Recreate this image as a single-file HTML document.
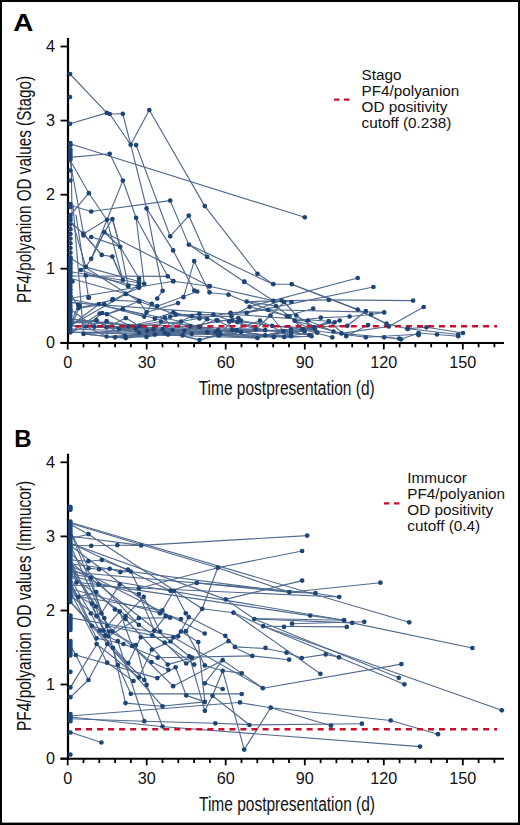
<!DOCTYPE html>
<html><head><meta charset="utf-8"><style>
html,body{margin:0;padding:0;background:#fff;}
body{width:520px;height:825px;overflow:hidden;}
svg{display:block;}
.tk{font-family:"Liberation Sans",sans-serif;font-size:16.2px;fill:#111;}
.lg{font-family:"Liberation Sans",sans-serif;font-size:15.3px;fill:#111;}
.ax{font-family:"Liberation Sans",sans-serif;font-size:19.5px;fill:#111;}
.pl{font-family:"Liberation Sans",sans-serif;font-size:24px;font-weight:bold;fill:#000;}
</style></head><body>
<svg width="520" height="825" viewBox="0 0 520 825">
<rect x="0" y="0" width="520" height="825" fill="#fff"/>
<text class="pl" transform="translate(13.2,31.4) scale(1.16,1)">A</text>
<text x="14.2" y="446.8" class="pl">B</text>
<line x1="68" y1="38.0" x2="68" y2="343.8" stroke="#000" stroke-width="2.2"/>
<line x1="60.5" y1="342.8" x2="68" y2="342.8" stroke="#000" stroke-width="1.8"/>
<text x="55" y="348.4" text-anchor="end" class="tk">0</text>
<line x1="60.5" y1="268.7" x2="68" y2="268.7" stroke="#000" stroke-width="1.8"/>
<text x="55" y="274.3" text-anchor="end" class="tk">1</text>
<line x1="60.5" y1="194.7" x2="68" y2="194.7" stroke="#000" stroke-width="1.8"/>
<text x="55" y="200.3" text-anchor="end" class="tk">2</text>
<line x1="60.5" y1="120.6" x2="68" y2="120.6" stroke="#000" stroke-width="1.8"/>
<text x="55" y="126.2" text-anchor="end" class="tk">3</text>
<line x1="60.5" y1="46.5" x2="68" y2="46.5" stroke="#000" stroke-width="1.8"/>
<text x="55" y="52.1" text-anchor="end" class="tk">4</text>
<line x1="60.5" y1="343.0" x2="504" y2="343.0" stroke="#000" stroke-width="2"/>
<line x1="67.7" y1="343.0" x2="67.7" y2="349.5" stroke="#000" stroke-width="1.8"/>
<text x="67.7" y="367.7" text-anchor="middle" class="tk">0</text>
<line x1="83.5" y1="343.0" x2="83.5" y2="347.3" stroke="#000" stroke-width="1.8"/>
<line x1="99.3" y1="343.0" x2="99.3" y2="347.3" stroke="#000" stroke-width="1.8"/>
<line x1="115.1" y1="343.0" x2="115.1" y2="347.3" stroke="#000" stroke-width="1.8"/>
<line x1="130.9" y1="343.0" x2="130.9" y2="347.3" stroke="#000" stroke-width="1.8"/>
<line x1="146.7" y1="343.0" x2="146.7" y2="349.5" stroke="#000" stroke-width="1.8"/>
<text x="146.7" y="367.7" text-anchor="middle" class="tk">30</text>
<line x1="162.5" y1="343.0" x2="162.5" y2="347.3" stroke="#000" stroke-width="1.8"/>
<line x1="178.3" y1="343.0" x2="178.3" y2="347.3" stroke="#000" stroke-width="1.8"/>
<line x1="194.1" y1="343.0" x2="194.1" y2="347.3" stroke="#000" stroke-width="1.8"/>
<line x1="209.9" y1="343.0" x2="209.9" y2="347.3" stroke="#000" stroke-width="1.8"/>
<line x1="225.7" y1="343.0" x2="225.7" y2="349.5" stroke="#000" stroke-width="1.8"/>
<text x="225.7" y="367.7" text-anchor="middle" class="tk">60</text>
<line x1="241.5" y1="343.0" x2="241.5" y2="347.3" stroke="#000" stroke-width="1.8"/>
<line x1="257.3" y1="343.0" x2="257.3" y2="347.3" stroke="#000" stroke-width="1.8"/>
<line x1="273.2" y1="343.0" x2="273.2" y2="347.3" stroke="#000" stroke-width="1.8"/>
<line x1="289.0" y1="343.0" x2="289.0" y2="347.3" stroke="#000" stroke-width="1.8"/>
<line x1="304.8" y1="343.0" x2="304.8" y2="349.5" stroke="#000" stroke-width="1.8"/>
<text x="304.8" y="367.7" text-anchor="middle" class="tk">90</text>
<line x1="320.6" y1="343.0" x2="320.6" y2="347.3" stroke="#000" stroke-width="1.8"/>
<line x1="336.4" y1="343.0" x2="336.4" y2="347.3" stroke="#000" stroke-width="1.8"/>
<line x1="352.2" y1="343.0" x2="352.2" y2="347.3" stroke="#000" stroke-width="1.8"/>
<line x1="368.0" y1="343.0" x2="368.0" y2="347.3" stroke="#000" stroke-width="1.8"/>
<line x1="383.8" y1="343.0" x2="383.8" y2="349.5" stroke="#000" stroke-width="1.8"/>
<text x="383.8" y="367.7" text-anchor="middle" class="tk">120</text>
<line x1="399.6" y1="343.0" x2="399.6" y2="347.3" stroke="#000" stroke-width="1.8"/>
<line x1="415.4" y1="343.0" x2="415.4" y2="347.3" stroke="#000" stroke-width="1.8"/>
<line x1="431.2" y1="343.0" x2="431.2" y2="347.3" stroke="#000" stroke-width="1.8"/>
<line x1="447.0" y1="343.0" x2="447.0" y2="347.3" stroke="#000" stroke-width="1.8"/>
<line x1="462.8" y1="343.0" x2="462.8" y2="349.5" stroke="#000" stroke-width="1.8"/>
<text x="462.8" y="367.7" text-anchor="middle" class="tk">150</text>
<line x1="478.6" y1="343.0" x2="478.6" y2="347.3" stroke="#000" stroke-width="1.8"/>
<line x1="494.4" y1="343.0" x2="494.4" y2="347.3" stroke="#000" stroke-width="1.8"/>
<line x1="68" y1="453.8" x2="68" y2="759.6" stroke="#000" stroke-width="2.2"/>
<line x1="60.5" y1="758.6" x2="68" y2="758.6" stroke="#000" stroke-width="1.8"/>
<text x="55" y="764.2" text-anchor="end" class="tk">0</text>
<line x1="60.5" y1="684.5" x2="68" y2="684.5" stroke="#000" stroke-width="1.8"/>
<text x="55" y="690.1" text-anchor="end" class="tk">1</text>
<line x1="60.5" y1="610.5" x2="68" y2="610.5" stroke="#000" stroke-width="1.8"/>
<text x="55" y="616.1" text-anchor="end" class="tk">2</text>
<line x1="60.5" y1="536.4" x2="68" y2="536.4" stroke="#000" stroke-width="1.8"/>
<text x="55" y="542.0" text-anchor="end" class="tk">3</text>
<line x1="60.5" y1="462.3" x2="68" y2="462.3" stroke="#000" stroke-width="1.8"/>
<text x="55" y="467.9" text-anchor="end" class="tk">4</text>
<line x1="60.5" y1="758.8" x2="504" y2="758.8" stroke="#000" stroke-width="2"/>
<line x1="67.7" y1="758.8" x2="67.7" y2="765.3" stroke="#000" stroke-width="1.8"/>
<text x="67.7" y="783.5" text-anchor="middle" class="tk">0</text>
<line x1="83.5" y1="758.8" x2="83.5" y2="763.1" stroke="#000" stroke-width="1.8"/>
<line x1="99.3" y1="758.8" x2="99.3" y2="763.1" stroke="#000" stroke-width="1.8"/>
<line x1="115.1" y1="758.8" x2="115.1" y2="763.1" stroke="#000" stroke-width="1.8"/>
<line x1="130.9" y1="758.8" x2="130.9" y2="763.1" stroke="#000" stroke-width="1.8"/>
<line x1="146.7" y1="758.8" x2="146.7" y2="765.3" stroke="#000" stroke-width="1.8"/>
<text x="146.7" y="783.5" text-anchor="middle" class="tk">30</text>
<line x1="162.5" y1="758.8" x2="162.5" y2="763.1" stroke="#000" stroke-width="1.8"/>
<line x1="178.3" y1="758.8" x2="178.3" y2="763.1" stroke="#000" stroke-width="1.8"/>
<line x1="194.1" y1="758.8" x2="194.1" y2="763.1" stroke="#000" stroke-width="1.8"/>
<line x1="209.9" y1="758.8" x2="209.9" y2="763.1" stroke="#000" stroke-width="1.8"/>
<line x1="225.7" y1="758.8" x2="225.7" y2="765.3" stroke="#000" stroke-width="1.8"/>
<text x="225.7" y="783.5" text-anchor="middle" class="tk">60</text>
<line x1="241.5" y1="758.8" x2="241.5" y2="763.1" stroke="#000" stroke-width="1.8"/>
<line x1="257.3" y1="758.8" x2="257.3" y2="763.1" stroke="#000" stroke-width="1.8"/>
<line x1="273.2" y1="758.8" x2="273.2" y2="763.1" stroke="#000" stroke-width="1.8"/>
<line x1="289.0" y1="758.8" x2="289.0" y2="763.1" stroke="#000" stroke-width="1.8"/>
<line x1="304.8" y1="758.8" x2="304.8" y2="765.3" stroke="#000" stroke-width="1.8"/>
<text x="304.8" y="783.5" text-anchor="middle" class="tk">90</text>
<line x1="320.6" y1="758.8" x2="320.6" y2="763.1" stroke="#000" stroke-width="1.8"/>
<line x1="336.4" y1="758.8" x2="336.4" y2="763.1" stroke="#000" stroke-width="1.8"/>
<line x1="352.2" y1="758.8" x2="352.2" y2="763.1" stroke="#000" stroke-width="1.8"/>
<line x1="368.0" y1="758.8" x2="368.0" y2="763.1" stroke="#000" stroke-width="1.8"/>
<line x1="383.8" y1="758.8" x2="383.8" y2="765.3" stroke="#000" stroke-width="1.8"/>
<text x="383.8" y="783.5" text-anchor="middle" class="tk">120</text>
<line x1="399.6" y1="758.8" x2="399.6" y2="763.1" stroke="#000" stroke-width="1.8"/>
<line x1="415.4" y1="758.8" x2="415.4" y2="763.1" stroke="#000" stroke-width="1.8"/>
<line x1="431.2" y1="758.8" x2="431.2" y2="763.1" stroke="#000" stroke-width="1.8"/>
<line x1="447.0" y1="758.8" x2="447.0" y2="763.1" stroke="#000" stroke-width="1.8"/>
<line x1="462.8" y1="758.8" x2="462.8" y2="765.3" stroke="#000" stroke-width="1.8"/>
<text x="462.8" y="783.5" text-anchor="middle" class="tk">150</text>
<line x1="478.6" y1="758.8" x2="478.6" y2="763.1" stroke="#000" stroke-width="1.8"/>
<line x1="494.4" y1="758.8" x2="494.4" y2="763.1" stroke="#000" stroke-width="1.8"/>
<!-- axis labels -->
<text class="ax" transform="translate(198.7,395) scale(0.795,1)">Time postpresentation (d)</text>
<text class="ax" transform="translate(199,811.3) scale(0.795,1)">Time postpresentation (d)</text>
<text class="ax" transform="translate(30.6,303) rotate(-90) scale(0.7817,1)">PF4/polyanion OD values (Stago)</text>
<text class="ax" transform="translate(30.8,731) rotate(-90) scale(0.7937,1)">PF4/polyanion OD values (Immucor)</text>
<line x1="334" y1="99.7" x2="350" y2="99.7" stroke="#c8102e" stroke-width="2.2" stroke-dasharray="5.5,4.5"/>
<text x="361.5" y="79.9" class="lg">Stago</text>
<text x="361.5" y="96.0" class="lg">PF4/polyanion</text>
<text x="361.5" y="112.2" class="lg">OD positivity</text>
<text x="361.5" y="128.3" class="lg">cutoff (0.238)</text>
<line x1="384" y1="503.3" x2="400" y2="503.3" stroke="#c8102e" stroke-width="2.2" stroke-dasharray="5.5,4.5"/>
<text x="407.3" y="482.9" class="lg">Immucor</text>
<text x="407.3" y="499.0" class="lg">PF4/polyanion</text>
<text x="407.3" y="515.2" class="lg">OD positivity</text>
<text x="407.3" y="531.3" class="lg">cutoff (0.4)</text>
<g stroke="#506a8f" stroke-width="1.15" stroke-linecap="round"><line x1="70" y1="74.0" x2="106.8" y2="112.9"/><line x1="70" y1="123.8" x2="106.8" y2="112.9"/><line x1="109.7" y1="114.0" x2="122.8" y2="113.8"/><line x1="122.8" y1="113.8" x2="130.7" y2="144.7"/><line x1="109.7" y1="114.0" x2="130.7" y2="144.7"/><line x1="149.3" y1="110.0" x2="130.7" y2="144.7"/><line x1="149.3" y1="110.0" x2="204.8" y2="206.1"/><line x1="204.8" y1="206.1" x2="257.5" y2="273.8"/><line x1="257.5" y1="273.8" x2="273.3" y2="284.2"/><line x1="273.3" y1="284.2" x2="291.7" y2="284.2"/><line x1="291.7" y1="284.2" x2="357.7" y2="309.6"/><line x1="357.7" y1="309.6" x2="386.5" y2="323.7"/><line x1="70" y1="143.8" x2="304.8" y2="217.3"/><line x1="72.7" y1="157.1" x2="109.7" y2="153.8"/><line x1="109.7" y1="153.8" x2="122.9" y2="180.6"/><line x1="122.9" y1="180.6" x2="136.1" y2="217.8"/><line x1="136.1" y1="217.8" x2="167.7" y2="276.3"/><line x1="167.7" y1="276.3" x2="173.1" y2="281.2"/><line x1="173.1" y1="281.2" x2="209.6" y2="286.3"/><line x1="122.9" y1="180.6" x2="107" y2="219.8"/><line x1="107" y1="219.8" x2="91.2" y2="258.8"/><line x1="130.7" y1="144.7" x2="146.6" y2="208.4"/><line x1="146.6" y1="208.4" x2="173.1" y2="250.4"/><line x1="173.1" y1="250.4" x2="194.2" y2="290.5"/><line x1="136.1" y1="145.1" x2="170.2" y2="236.3"/><line x1="170.2" y1="236.3" x2="188.8" y2="215.6"/><line x1="188.8" y1="215.6" x2="207.1" y2="256.9"/><line x1="91.2" y1="211.5" x2="170.2" y2="200.6"/><line x1="170.2" y1="200.6" x2="188.8" y2="244.6"/><line x1="188.8" y1="244.6" x2="207.1" y2="256.9"/><line x1="207.1" y1="256.9" x2="244.2" y2="281.8"/><line x1="244.2" y1="281.8" x2="273.5" y2="300.8"/><line x1="188.8" y1="244.6" x2="273" y2="284.2"/><line x1="70" y1="160.0" x2="88.9" y2="193.2"/><line x1="88.9" y1="193.2" x2="106.8" y2="219.7"/><line x1="106.8" y1="219.7" x2="112.4" y2="219.2"/><line x1="112.4" y1="219.2" x2="120" y2="247.0"/><line x1="70" y1="205.3" x2="91.2" y2="211.5"/><line x1="70" y1="161.0" x2="83.5" y2="233.3"/><line x1="83.5" y1="233.3" x2="101.7" y2="255.0"/><line x1="101.7" y1="255.0" x2="112.3" y2="256.6"/><line x1="112.3" y1="256.6" x2="122.8" y2="280.0"/><line x1="91.2" y1="236.8" x2="120.2" y2="246.9"/><line x1="91.2" y1="258.8" x2="85.8" y2="266.9"/><line x1="85.8" y1="266.9" x2="80.8" y2="270.0"/><line x1="112.4" y1="219.1" x2="104.3" y2="232.2"/><line x1="104.3" y1="232.2" x2="91.2" y2="258.8"/><line x1="104.3" y1="232.2" x2="120.2" y2="246.9"/><line x1="120.2" y1="246.9" x2="128.2" y2="285.8"/><line x1="120.2" y1="246.9" x2="139" y2="278.5"/><line x1="104.3" y1="232.2" x2="209.5" y2="286.2"/><line x1="209.5" y1="286.2" x2="273.3" y2="300.8"/><line x1="194.2" y1="261.2" x2="183.5" y2="297.3"/><line x1="194.2" y1="261.2" x2="209.5" y2="292.7"/><line x1="209.5" y1="292.7" x2="228.5" y2="294.5"/><line x1="228.5" y1="294.5" x2="246.5" y2="302.0"/><line x1="136.1" y1="217.8" x2="144.2" y2="283.2"/><line x1="146.6" y1="208.4" x2="162.6" y2="290.8"/><line x1="162.6" y1="290.8" x2="157.2" y2="298.5"/><line x1="88.6" y1="193.3" x2="71.5" y2="213.8"/><line x1="106.9" y1="219.6" x2="83.4" y2="234.0"/><line x1="106.9" y1="219.6" x2="122.8" y2="280.0"/><line x1="112.5" y1="219.0" x2="120.3" y2="247.2"/><line x1="104.2" y1="232.3" x2="120.3" y2="247.2"/><line x1="104.2" y1="232.3" x2="91.3" y2="258.7"/><line x1="83.4" y1="234.0" x2="101.8" y2="254.8"/><line x1="72" y1="223.0" x2="83.4" y2="234.0"/><line x1="73.2" y1="224.0" x2="85.9" y2="267.1"/><line x1="112.5" y1="256.7" x2="122.3" y2="279.8"/><line x1="81.1" y1="270.2" x2="128" y2="286.0"/><line x1="72" y1="272.0" x2="144.2" y2="283.8"/><line x1="70.4" y1="276.0" x2="167.7" y2="276.3"/><line x1="71.2" y1="278.5" x2="125.8" y2="293.8"/><line x1="70.4" y1="298.3" x2="173.4" y2="281.2"/><line x1="71.2" y1="160.0" x2="72" y2="215.0"/><line x1="73" y1="205.0" x2="83.5" y2="333.9"/><line x1="76" y1="215.0" x2="88.5" y2="297.6"/><line x1="85.9" y1="274.6" x2="139" y2="286.2"/><line x1="85.9" y1="267.1" x2="139" y2="281.5"/><line x1="249.6" y1="306.8" x2="357.7" y2="278.0"/><line x1="246.7" y1="312.9" x2="373.4" y2="287.0"/><line x1="246.7" y1="301.6" x2="328.8" y2="299.9"/><line x1="328.8" y1="299.9" x2="413.1" y2="300.6"/><line x1="291.6" y1="284.3" x2="357.7" y2="309.6"/><line x1="357.7" y1="309.6" x2="386.5" y2="323.7"/><line x1="268.1" y1="309.8" x2="384.2" y2="312.4"/><line x1="371.1" y1="314.5" x2="384.2" y2="312.4"/><line x1="349.6" y1="316.5" x2="371.1" y2="314.5"/><line x1="388.8" y1="326.5" x2="423.7" y2="307.0"/><line x1="386.5" y1="323.7" x2="407.3" y2="328.8"/><line x1="407.3" y1="328.8" x2="426.4" y2="327.3"/><line x1="365.8" y1="337.3" x2="418.2" y2="334.3"/><line x1="384.2" y1="337.3" x2="399.2" y2="338.5"/><line x1="408" y1="328.8" x2="458.2" y2="334.5"/><line x1="426.4" y1="327.3" x2="463" y2="333.0"/><line x1="418.6" y1="333.0" x2="437" y2="334.5"/><line x1="437" y1="334.5" x2="458.2" y2="336.2"/><line x1="401" y1="339.3" x2="418.6" y2="333.0"/><line x1="303.5" y1="329.2" x2="365.8" y2="337.3"/><line x1="78.6" y1="308.1" x2="112.3" y2="300.1"/><line x1="106.9" y1="314.2" x2="139" y2="301.2"/><line x1="70.4" y1="325.7" x2="78.2" y2="304.7"/><line x1="70.4" y1="329.0" x2="79.7" y2="305.8"/><line x1="70.4" y1="325.7" x2="98.9" y2="304.2"/><line x1="78.6" y1="308.1" x2="104.3" y2="304.2"/><line x1="106.9" y1="314.2" x2="122.8" y2="309.2"/><line x1="70.4" y1="332.3" x2="99.7" y2="313.5"/><line x1="85.8" y1="326.5" x2="102.3" y2="313.0"/><line x1="99.7" y1="313.5" x2="106.9" y2="314.2"/><line x1="70.4" y1="292.7" x2="78.6" y2="308.1"/><line x1="106.6" y1="327.3" x2="125.8" y2="318.1"/><line x1="70.4" y1="322.4" x2="96.6" y2="320.4"/><line x1="85.8" y1="326.5" x2="106.6" y2="321.2"/><line x1="70.4" y1="332.3" x2="85.8" y2="326.5"/><line x1="70.4" y1="309.2" x2="94.3" y2="326.8"/><line x1="96.6" y1="320.4" x2="106.6" y2="327.3"/><line x1="106.6" y1="327.3" x2="128.2" y2="326.5"/><line x1="106.6" y1="321.2" x2="118.9" y2="328.8"/><line x1="106.9" y1="314.2" x2="135.8" y2="328.8"/><line x1="85.8" y1="326.5" x2="106.6" y2="336.5"/><line x1="106.6" y1="336.5" x2="115.1" y2="337.3"/><line x1="96.6" y1="320.4" x2="125.1" y2="335.8"/><line x1="106.6" y1="336.5" x2="125.8" y2="338.1"/><line x1="118.9" y1="328.8" x2="139" y2="332.7"/><line x1="125.8" y1="293.9" x2="138.8" y2="284.6"/><line x1="112.3" y1="300.1" x2="138.8" y2="287.7"/><line x1="157.2" y1="306.2" x2="197.2" y2="291.5"/><line x1="112.3" y1="300.1" x2="139.2" y2="301.5"/><line x1="144.2" y1="316.6" x2="151.8" y2="303.8"/><line x1="125.8" y1="293.9" x2="157.2" y2="306.2"/><line x1="146.5" y1="312.3" x2="178" y2="303.1"/><line x1="139" y1="301.2" x2="146.5" y2="312.3"/><line x1="98.9" y1="304.2" x2="144.2" y2="316.6"/><line x1="122.8" y1="309.2" x2="154.9" y2="318.5"/><line x1="118.9" y1="328.8" x2="164.9" y2="317.7"/><line x1="118.9" y1="328.8" x2="161.1" y2="321.5"/><line x1="154.9" y1="318.5" x2="173.4" y2="312.3"/><line x1="139" y1="301.2" x2="175.7" y2="314.6"/><line x1="153.4" y1="329.2" x2="170.3" y2="316.6"/><line x1="139.5" y1="326.2" x2="181.1" y2="321.5"/><line x1="162.6" y1="329.2" x2="191.8" y2="316.2"/><line x1="170.3" y1="316.6" x2="199.5" y2="313.8"/><line x1="173.4" y1="312.3" x2="199.5" y2="318.5"/><line x1="191.8" y1="333.8" x2="207.2" y2="319.2"/><line x1="175.7" y1="314.6" x2="213.4" y2="314.6"/><line x1="184.2" y1="330.8" x2="216.5" y2="320.0"/><line x1="106.6" y1="327.3" x2="139.5" y2="326.2"/><line x1="125.8" y1="318.1" x2="147.2" y2="330.8"/><line x1="125.8" y1="338.1" x2="153.4" y2="329.2"/><line x1="128.2" y1="326.5" x2="162.6" y2="329.2"/><line x1="139" y1="332.7" x2="164.9" y2="333.1"/><line x1="164.9" y1="317.7" x2="172.6" y2="330.0"/><line x1="146.5" y1="336.9" x2="184.2" y2="330.8"/><line x1="182.6" y1="335.4" x2="190.3" y2="326.2"/><line x1="161.1" y1="321.5" x2="199.5" y2="326.9"/><line x1="168" y1="334.6" x2="207.2" y2="332.3"/><line x1="135.8" y1="328.8" x2="146.5" y2="336.9"/><line x1="106.6" y1="336.5" x2="154.9" y2="334.6"/><line x1="125.1" y1="335.8" x2="168" y2="334.6"/><line x1="172.6" y1="330.0" x2="182.6" y2="335.4"/><line x1="153.4" y1="329.2" x2="191.8" y2="333.8"/><line x1="153.4" y1="329.2" x2="199.5" y2="340.0"/><line x1="181.1" y1="321.5" x2="215.7" y2="332.3"/><line x1="246.7" y1="312.9" x2="281.6" y2="300.4"/><line x1="270.4" y1="315.5" x2="284.2" y2="302.0"/><line x1="273.3" y1="300.8" x2="291.6" y2="302.0"/><line x1="231.4" y1="316.3" x2="249.6" y2="306.8"/><line x1="246.7" y1="301.6" x2="275.9" y2="306.0"/><line x1="230.6" y1="312.9" x2="268.1" y2="309.8"/><line x1="230.6" y1="312.9" x2="246.7" y2="312.9"/><line x1="181.1" y1="321.5" x2="230.6" y2="312.9"/><line x1="191.8" y1="316.2" x2="231.4" y2="316.3"/><line x1="255.7" y1="329.3" x2="270.4" y2="315.5"/><line x1="246.7" y1="301.6" x2="286.8" y2="316.0"/><line x1="249.6" y1="306.8" x2="289.4" y2="316.3"/><line x1="284.2" y1="302.0" x2="296.3" y2="315.5"/><line x1="175.7" y1="314.6" x2="217.6" y2="320.7"/><line x1="220.2" y1="333.6" x2="232.3" y2="320.7"/><line x1="190.3" y1="326.2" x2="238.4" y2="318.1"/><line x1="217.6" y1="320.7" x2="241" y2="320.7"/><line x1="218.5" y1="335.4" x2="260" y2="320.7"/><line x1="275.9" y1="306.0" x2="294.6" y2="320.7"/><line x1="199.5" y1="326.9" x2="218.1" y2="330.2"/><line x1="199.5" y1="340.0" x2="220.2" y2="333.6"/><line x1="190.3" y1="326.2" x2="218.5" y2="335.4"/><line x1="207.2" y1="332.3" x2="232.3" y2="330.2"/><line x1="217.6" y1="320.7" x2="241" y2="331.9"/><line x1="213.4" y1="314.6" x2="255.7" y2="329.3"/><line x1="232.3" y1="320.7" x2="265.2" y2="330.2"/><line x1="241" y1="320.7" x2="272.1" y2="325.8"/><line x1="270.4" y1="315.5" x2="283.3" y2="331.0"/><line x1="257.4" y1="338.0" x2="291.1" y2="329.3"/><line x1="255.7" y1="329.3" x2="291.1" y2="332.8"/><line x1="294.6" y1="320.7" x2="302.4" y2="329.3"/><line x1="218.1" y1="330.2" x2="257.4" y2="338.0"/><line x1="257.4" y1="338.0" x2="265.2" y2="335.4"/><line x1="232.3" y1="330.2" x2="273.8" y2="337.1"/><line x1="241" y1="331.9" x2="284.2" y2="337.1"/><line x1="260" y1="320.7" x2="291.1" y2="336.2"/><line x1="286.8" y1="316.0" x2="313.2" y2="308.5"/><line x1="347.3" y1="325.8" x2="365.8" y2="311.2"/><line x1="320.8" y1="317.7" x2="349.6" y2="316.5"/><line x1="294.6" y1="320.7" x2="320.8" y2="317.7"/><line x1="294.6" y1="320.7" x2="308" y2="320.5"/><line x1="304.6" y1="331.5" x2="328.8" y2="321.2"/><line x1="302.4" y1="329.3" x2="334.6" y2="322.3"/><line x1="302.4" y1="329.3" x2="339.7" y2="320.5"/><line x1="313.8" y1="327.0" x2="347.3" y2="325.8"/><line x1="346.2" y1="336.2" x2="368.1" y2="325.1"/><line x1="341.5" y1="333.4" x2="388.8" y2="326.5"/><line x1="296.3" y1="315.5" x2="313.8" y2="327.0"/><line x1="273.8" y1="337.1" x2="315" y2="328.8"/><line x1="265.2" y1="335.4" x2="303.5" y2="329.2"/><line x1="294.6" y1="320.7" x2="304.6" y2="331.5"/><line x1="294.6" y1="320.7" x2="317.3" y2="332.7"/><line x1="283.3" y1="331.0" x2="309.2" y2="335.0"/><line x1="284.2" y1="337.1" x2="311.5" y2="336.2"/><line x1="308" y1="320.5" x2="333.5" y2="331.5"/><line x1="294.6" y1="320.7" x2="341.5" y2="333.4"/><line x1="302.4" y1="329.3" x2="332.3" y2="337.3"/><line x1="328.8" y1="321.2" x2="346.2" y2="336.2"/><line x1="341.5" y1="333.4" x2="384.2" y2="337.3"/><line x1="384.2" y1="337.3" x2="401" y2="339.3"/><line x1="70.4" y1="258.0" x2="139.2" y2="301.5"/><line x1="70.4" y1="299.3" x2="181.1" y2="321.5"/><line x1="70.4" y1="302.6" x2="328.8" y2="321.2"/><line x1="70.4" y1="325.7" x2="125.8" y2="293.9"/><line x1="94.3" y1="326.8" x2="106.6" y2="327.3"/><line x1="106.6" y1="321.2" x2="128.2" y2="326.5"/><line x1="85.8" y1="326.5" x2="118.9" y2="328.8"/><line x1="83.5" y1="333.9" x2="135.8" y2="328.8"/><line x1="83.5" y1="333.9" x2="106.6" y2="336.5"/><line x1="83.5" y1="333.9" x2="115.1" y2="337.3"/><line x1="106.6" y1="336.5" x2="125.1" y2="335.8"/><line x1="106.6" y1="336.5" x2="125.8" y2="338.1"/><line x1="118.9" y1="328.8" x2="139" y2="332.7"/><line x1="118.9" y1="328.8" x2="139.5" y2="326.2"/><line x1="106.6" y1="327.3" x2="147.2" y2="330.8"/><line x1="128.2" y1="326.5" x2="153.4" y2="329.2"/><line x1="135.8" y1="328.8" x2="162.6" y2="329.2"/><line x1="106.6" y1="327.3" x2="164.9" y2="333.1"/><line x1="125.1" y1="335.8" x2="172.6" y2="330.0"/><line x1="154.9" y1="334.6" x2="184.2" y2="330.8"/><line x1="147.2" y1="330.8" x2="190.3" y2="326.2"/><line x1="161.1" y1="321.5" x2="199.5" y2="326.9"/><line x1="162.6" y1="329.2" x2="207.2" y2="332.3"/><line x1="106.6" y1="336.5" x2="146.5" y2="336.9"/><line x1="125.8" y1="338.1" x2="154.9" y2="334.6"/><line x1="153.4" y1="329.2" x2="168" y2="334.6"/><line x1="154.9" y1="334.6" x2="182.6" y2="335.4"/><line x1="135.8" y1="328.8" x2="191.8" y2="333.8"/><line x1="182.6" y1="335.4" x2="199.5" y2="340.0"/><line x1="168" y1="334.6" x2="215.7" y2="332.3"/><line x1="162.6" y1="329.2" x2="218.1" y2="330.2"/><line x1="184.2" y1="330.8" x2="220.2" y2="333.6"/><line x1="199.5" y1="340.0" x2="218.5" y2="335.4"/><line x1="172.6" y1="330.0" x2="232.3" y2="330.2"/><line x1="218.5" y1="335.4" x2="241" y2="331.9"/><line x1="215.7" y1="332.3" x2="255.7" y2="329.3"/><line x1="232.3" y1="330.2" x2="265.2" y2="330.2"/><line x1="232.3" y1="320.7" x2="272.1" y2="325.8"/><line x1="265.2" y1="335.4" x2="283.3" y2="331.0"/><line x1="241" y1="331.9" x2="291.1" y2="329.3"/><line x1="265.2" y1="335.4" x2="291.1" y2="332.8"/><line x1="272.1" y1="325.8" x2="302.4" y2="329.3"/><line x1="218.5" y1="335.4" x2="257.4" y2="338.0"/><line x1="241" y1="331.9" x2="265.2" y2="335.4"/><line x1="218.5" y1="335.4" x2="273.8" y2="337.1"/><line x1="265.2" y1="335.4" x2="284.2" y2="337.1"/><line x1="265.2" y1="335.4" x2="291.1" y2="336.2"/><line x1="291.1" y1="332.8" x2="313.8" y2="327.0"/><line x1="272.1" y1="325.8" x2="315" y2="328.8"/><line x1="291.1" y1="329.3" x2="303.5" y2="329.2"/><line x1="265.2" y1="330.2" x2="304.6" y2="331.5"/><line x1="273.8" y1="337.1" x2="317.3" y2="332.7"/><line x1="283.3" y1="331.0" x2="309.2" y2="335.0"/><line x1="284.2" y1="337.1" x2="311.5" y2="336.2"/><line x1="70.4" y1="332.3" x2="283.3" y2="331.0"/><line x1="70.4" y1="325.7" x2="265.2" y2="330.2"/><line x1="70.4" y1="325.7" x2="184.2" y2="330.8"/><line x1="70.4" y1="332.3" x2="265.2" y2="335.4"/><line x1="70.4" y1="332.3" x2="257.4" y2="338.0"/><line x1="70.4" y1="329.0" x2="291.1" y2="336.2"/><line x1="70.4" y1="319.1" x2="139.5" y2="326.2"/><line x1="70.4" y1="322.4" x2="255.7" y2="329.3"/></g>
<g stroke="#506a8f" stroke-width="1.15" stroke-linecap="round"><line x1="72.6" y1="523.0" x2="409.2" y2="622.3"/><line x1="72.6" y1="524.0" x2="217.8" y2="567.7"/><line x1="217.8" y1="567.7" x2="289.4" y2="592.2"/><line x1="289.4" y1="592.2" x2="380.4" y2="582.7"/><line x1="138.9" y1="588.3" x2="217.8" y2="567.7"/><line x1="217.8" y1="567.7" x2="302.1" y2="551.0"/><line x1="217.8" y1="567.7" x2="202.2" y2="608.8"/><line x1="202.2" y1="608.8" x2="185.8" y2="631.2"/><line x1="70.4" y1="545.5" x2="91.2" y2="545.8"/><line x1="91.2" y1="545.8" x2="117.4" y2="545.2"/><line x1="117.4" y1="545.2" x2="141.2" y2="545.4"/><line x1="141.2" y1="545.4" x2="307.2" y2="535.6"/><line x1="225.7" y1="599.4" x2="302.1" y2="580.6"/><line x1="196.8" y1="582.9" x2="289.4" y2="592.2"/><line x1="289.4" y1="592.2" x2="315.5" y2="593.2"/><line x1="315.5" y1="593.2" x2="339.2" y2="597.0"/><line x1="233.5" y1="612.7" x2="320.4" y2="673.8"/><line x1="98.5" y1="584.4" x2="310.2" y2="615.6"/><line x1="310.2" y1="615.6" x2="344.1" y2="620.2"/><line x1="253.1" y1="618.5" x2="344.1" y2="620.2"/><line x1="254.3" y1="619.0" x2="352.2" y2="622.9"/><line x1="352.2" y1="622.9" x2="472.4" y2="648.0"/><line x1="262.8" y1="626.0" x2="501.8" y2="710.3"/><line x1="254.3" y1="619.0" x2="398.8" y2="677.8"/><line x1="263.2" y1="626.2" x2="404.4" y2="684.3"/><line x1="241.7" y1="673.4" x2="262.8" y2="688.2"/><line x1="262.8" y1="688.2" x2="401.4" y2="664.1"/><line x1="292.1" y1="623.7" x2="364.3" y2="621.8"/><line x1="263.2" y1="626.2" x2="346.8" y2="626.9"/><line x1="238.8" y1="702.5" x2="270.7" y2="707.7"/><line x1="270.7" y1="707.7" x2="331" y2="725.7"/><line x1="270.7" y1="707.7" x2="390.7" y2="720.5"/><line x1="390.7" y1="720.5" x2="438" y2="734.2"/><line x1="270.7" y1="707.7" x2="244.2" y2="749.6"/><line x1="249.5" y1="725.0" x2="361.9" y2="723.7"/><line x1="222.7" y1="670.8" x2="244.2" y2="749.6"/><line x1="222.7" y1="670.8" x2="212.5" y2="695.8"/><line x1="212.5" y1="695.8" x2="204.8" y2="710.8"/><line x1="212.5" y1="695.8" x2="249.5" y2="725.0"/><line x1="204.8" y1="683.3" x2="222.7" y2="689.0"/><line x1="186.2" y1="695.4" x2="204.8" y2="701.9"/><line x1="157.7" y1="657.7" x2="252.3" y2="655.9"/><line x1="173.3" y1="637.3" x2="262.8" y2="688.2"/><line x1="222.7" y1="660.2" x2="204.8" y2="683.3"/><line x1="198.3" y1="642.1" x2="204.8" y2="701.9"/><line x1="189.4" y1="656.3" x2="204.8" y2="710.8"/><line x1="234.9" y1="646.9" x2="265.4" y2="648.5"/><line x1="265.4" y1="648.5" x2="286.5" y2="652.7"/><line x1="286.5" y1="652.7" x2="301.8" y2="658.0"/><line x1="301.8" y1="658.0" x2="325.7" y2="654.4"/><line x1="325.7" y1="654.4" x2="339" y2="657.3"/><line x1="233.7" y1="647.3" x2="252.3" y2="655.9"/><line x1="252.3" y1="655.9" x2="289.1" y2="659.7"/><line x1="130.8" y1="693.8" x2="241.9" y2="693.8"/><line x1="125.5" y1="703.1" x2="161" y2="706.3"/><line x1="161" y1="706.3" x2="204.8" y2="701.9"/><line x1="70.4" y1="716.0" x2="238.8" y2="702.5"/><line x1="70.4" y1="718.8" x2="144.3" y2="721.2"/><line x1="144.3" y1="721.2" x2="215.4" y2="723.3"/><line x1="215.4" y1="723.3" x2="249" y2="724.6"/><line x1="70.4" y1="717.0" x2="161" y2="726.5"/><line x1="161" y1="726.5" x2="420" y2="746.6"/><line x1="70.4" y1="732.3" x2="101.4" y2="742.5"/><line x1="75.8" y1="655.0" x2="88.5" y2="680.0"/><line x1="88.5" y1="680.0" x2="107.2" y2="644.8"/><line x1="70.4" y1="687.4" x2="96.6" y2="644.8"/><line x1="75.8" y1="655.0" x2="157.3" y2="678.1"/><line x1="113" y1="648.7" x2="125.5" y2="703.1"/><line x1="117.8" y1="641.2" x2="144.3" y2="721.2"/><line x1="72.9" y1="525.8" x2="88.5" y2="534.2"/><line x1="88.5" y1="534.2" x2="202.2" y2="608.8"/><line x1="72.9" y1="536.5" x2="141.2" y2="545.4"/><line x1="72.9" y1="538.0" x2="88.5" y2="534.2"/><line x1="72.9" y1="544.2" x2="225.7" y2="599.4"/><line x1="70.4" y1="697.2" x2="88.5" y2="680.0"/><line x1="70.4" y1="563.8" x2="289.4" y2="592.2"/><line x1="70.4" y1="572.0" x2="315.5" y2="593.2"/><line x1="70.4" y1="585.0" x2="339.2" y2="597.0"/><line x1="70.4" y1="574.0" x2="344.1" y2="620.2"/><line x1="225.7" y1="599.4" x2="254.3" y2="619.0"/><line x1="233.5" y1="612.7" x2="263.2" y2="626.2"/><line x1="202.2" y1="608.8" x2="233.5" y2="612.7"/><line x1="204.8" y1="665.5" x2="222.7" y2="670.8"/><line x1="222.7" y1="670.8" x2="241.3" y2="673.1"/><line x1="222.7" y1="660.2" x2="241.7" y2="673.4"/><line x1="70.4" y1="645.8" x2="75.8" y2="655.0"/><line x1="70.4" y1="557.5" x2="76.4" y2="582.5"/><line x1="70.4" y1="585.4" x2="78.3" y2="596.9"/><line x1="70.4" y1="559.9" x2="88.5" y2="561.2"/><line x1="70.4" y1="531.1" x2="88.5" y2="568.3"/><line x1="70.4" y1="568.9" x2="90.8" y2="577.9"/><line x1="70.4" y1="578.8" x2="90.8" y2="613.3"/><line x1="70.4" y1="592.0" x2="91.8" y2="603.7"/><line x1="70.4" y1="582.1" x2="91.8" y2="625.8"/><line x1="70.4" y1="568.9" x2="95.7" y2="606.5"/><line x1="78.3" y1="596.9" x2="96.2" y2="592.1"/><line x1="70.4" y1="559.9" x2="96.6" y2="616.2"/><line x1="70.4" y1="585.4" x2="96.6" y2="638.3"/><line x1="76.4" y1="582.5" x2="98.5" y2="584.4"/><line x1="88.5" y1="568.3" x2="99.1" y2="569.2"/><line x1="90.8" y1="613.3" x2="99.5" y2="630.6"/><line x1="90.8" y1="577.9" x2="101.4" y2="613.3"/><line x1="88.5" y1="561.2" x2="101.8" y2="560.0"/><line x1="91.8" y1="603.7" x2="103.3" y2="630.6"/><line x1="70.4" y1="531.1" x2="104.3" y2="618.1"/><line x1="95.7" y1="606.5" x2="105.3" y2="635.4"/><line x1="70.4" y1="545.5" x2="107.2" y2="625.8"/><line x1="70.4" y1="592.0" x2="107.2" y2="662.7"/><line x1="96.6" y1="616.2" x2="108.2" y2="636.3"/><line x1="91.8" y1="625.8" x2="109.1" y2="631.5"/><line x1="99.1" y1="569.2" x2="109.7" y2="568.8"/><line x1="70.4" y1="565.6" x2="112.4" y2="631.5"/><line x1="99.5" y1="630.6" x2="113" y2="647.9"/><line x1="96.2" y1="592.1" x2="114.9" y2="609.4"/><line x1="105.3" y1="635.4" x2="117.8" y2="641.2"/><line x1="104.3" y1="618.1" x2="117.8" y2="665.0"/><line x1="101.4" y1="613.3" x2="119.7" y2="584.4"/><line x1="103.3" y1="630.6" x2="119.7" y2="611.3"/><line x1="109.7" y1="568.8" x2="120.3" y2="572.1"/><line x1="96.6" y1="638.3" x2="123.5" y2="644.0"/><line x1="112.4" y1="631.5" x2="125.5" y2="616.2"/><line x1="114.9" y1="609.4" x2="125.5" y2="619.0"/><line x1="101.8" y1="560.0" x2="128" y2="569.6"/><line x1="70.4" y1="601.9" x2="128.3" y2="663.1"/><line x1="120.3" y1="572.1" x2="130.8" y2="571.5"/><line x1="117.8" y1="665.0" x2="130.8" y2="693.8"/><line x1="119.7" y1="611.3" x2="132.2" y2="646.0"/><line x1="107.2" y1="662.7" x2="133.5" y2="681.0"/><line x1="109.1" y1="631.5" x2="136" y2="645.0"/><line x1="130.8" y1="571.5" x2="138.9" y2="588.3"/><line x1="70.4" y1="575.5" x2="138.9" y2="594.0"/><line x1="108.2" y1="636.3" x2="138.9" y2="618.1"/><line x1="70.4" y1="552.7" x2="138.9" y2="624.8"/><line x1="96.6" y1="644.0" x2="138.9" y2="677.5"/><line x1="128.3" y1="663.1" x2="140.8" y2="637.3"/><line x1="125.5" y1="616.2" x2="143.7" y2="596.9"/><line x1="107.2" y1="644.0" x2="144.3" y2="680.0"/><line x1="136" y1="645.0" x2="146.6" y2="684.8"/><line x1="70.4" y1="595.3" x2="151.5" y2="662.1"/><line x1="138.9" y1="677.5" x2="151.9" y2="649.6"/><line x1="107.2" y1="625.8" x2="152.4" y2="635.4"/><line x1="138.9" y1="594.0" x2="154.3" y2="630.6"/><line x1="123.5" y1="644.0" x2="157.7" y2="657.7"/><line x1="70.4" y1="545.5" x2="160" y2="613.3"/><line x1="143.7" y1="596.9" x2="160" y2="631.5"/><line x1="70.4" y1="595.3" x2="162.4" y2="610.4"/><line x1="70.4" y1="601.9" x2="162.5" y2="706.3"/><line x1="146.6" y1="684.8" x2="162.5" y2="726.5"/><line x1="152.4" y1="635.4" x2="164.7" y2="642.7"/><line x1="154.3" y1="630.6" x2="165.7" y2="616.2"/><line x1="125.5" y1="619.0" x2="167.7" y2="664.6"/><line x1="151.5" y1="662.1" x2="168.3" y2="669.8"/><line x1="138.9" y1="618.1" x2="170.1" y2="617.7"/><line x1="70.4" y1="543.1" x2="170.5" y2="590.8"/><line x1="151.9" y1="649.6" x2="170.5" y2="641.5"/><line x1="132.2" y1="646.0" x2="173.1" y2="686.2"/><line x1="140.8" y1="637.3" x2="173.3" y2="637.3"/><line x1="162.4" y1="610.4" x2="173.9" y2="590.8"/><line x1="157.3" y1="678.1" x2="175.6" y2="667.3"/><line x1="70.4" y1="617.9" x2="178.2" y2="636.3"/><line x1="70.4" y1="588.7" x2="181" y2="619.0"/><line x1="170.5" y1="641.5" x2="181" y2="631.5"/><line x1="173.9" y1="590.8" x2="185.8" y2="613.3"/><line x1="164.7" y1="642.7" x2="186.2" y2="663.5"/><line x1="175.6" y1="667.3" x2="186.2" y2="695.4"/><line x1="178.2" y1="636.3" x2="188.7" y2="617.1"/><line x1="70.4" y1="562.3" x2="189.4" y2="656.3"/><line x1="167.7" y1="664.6" x2="191.9" y2="657.7"/><line x1="70.4" y1="575.5" x2="194.2" y2="664.6"/><line x1="170.5" y1="590.8" x2="196.8" y2="582.9"/><line x1="181" y1="631.5" x2="198.3" y2="642.1"/><line x1="70.4" y1="565.6" x2="204.7" y2="633.5"/><line x1="185.8" y1="631.2" x2="204.8" y2="665.4"/><line x1="173.1" y1="686.2" x2="222.7" y2="660.2"/><line x1="188.7" y1="617.1" x2="225.3" y2="635.8"/><line x1="186.2" y1="663.5" x2="228.5" y2="641.2"/><line x1="225.3" y1="635.8" x2="234.9" y2="646.9"/></g>
<!-- cutoff lines -->
<line x1="75" y1="326.2" x2="497" y2="326.2" stroke="#c8102e" stroke-width="2.4" stroke-dasharray="6,5.03"/>
<line x1="75" y1="729.2" x2="497" y2="729.2" stroke="#c8102e" stroke-width="2.4" stroke-dasharray="6,5.03"/>
<g fill="#1d4677"><circle cx="70" cy="74.0" r="2.35"/><circle cx="70" cy="97.0" r="2.35"/><circle cx="106.8" cy="112.9" r="2.35"/><circle cx="109.7" cy="114.0" r="2.35"/><circle cx="122.8" cy="113.8" r="2.35"/><circle cx="149.3" cy="110.0" r="2.35"/><circle cx="70" cy="123.8" r="2.35"/><circle cx="130.7" cy="144.7" r="2.35"/><circle cx="136.1" cy="145.1" r="2.35"/><circle cx="109.7" cy="153.8" r="2.35"/><circle cx="122.9" cy="180.6" r="2.35"/><circle cx="146.6" cy="208.4" r="2.35"/><circle cx="136.1" cy="217.8" r="2.35"/><circle cx="107" cy="219.8" r="2.35"/><circle cx="112.4" cy="219.1" r="2.35"/><circle cx="88.9" cy="193.2" r="2.35"/><circle cx="91.2" cy="211.5" r="2.35"/><circle cx="170.2" cy="200.6" r="2.35"/><circle cx="204.8" cy="206.1" r="2.35"/><circle cx="188.8" cy="215.6" r="2.35"/><circle cx="304.8" cy="217.3" r="2.35"/><circle cx="170.2" cy="236.3" r="2.35"/><circle cx="188.8" cy="244.6" r="2.35"/><circle cx="173.1" cy="250.4" r="2.35"/><circle cx="207.1" cy="256.9" r="2.35"/><circle cx="194.2" cy="261.2" r="2.35"/><circle cx="257.5" cy="273.8" r="2.35"/><circle cx="273.3" cy="284.2" r="2.35"/><circle cx="291.7" cy="284.2" r="2.35"/><circle cx="244.2" cy="281.8" r="2.35"/><circle cx="167.7" cy="276.3" r="2.35"/><circle cx="173.1" cy="281.2" r="2.35"/><circle cx="209.6" cy="286.3" r="2.35"/><circle cx="70.4" cy="143.0" r="2.35"/><circle cx="70.4" cy="145.5" r="2.35"/><circle cx="70.4" cy="149.5" r="2.35"/><circle cx="70.4" cy="152.0" r="2.35"/><circle cx="70.4" cy="154.5" r="2.35"/><circle cx="70.4" cy="157.0" r="2.35"/><circle cx="70.4" cy="159.5" r="2.35"/><circle cx="70.4" cy="170.5" r="2.35"/><circle cx="70.4" cy="180.5" r="2.35"/><circle cx="70.4" cy="204.0" r="2.35"/><circle cx="70.4" cy="207.0" r="2.35"/><circle cx="70.4" cy="215.0" r="2.35"/><circle cx="70.4" cy="218.0" r="2.35"/><circle cx="70.4" cy="220.5" r="2.35"/><circle cx="70.4" cy="224.5" r="2.35"/><circle cx="70.4" cy="229.2" r="2.35"/><circle cx="70.4" cy="233.9" r="2.35"/><circle cx="70.4" cy="238.6" r="2.35"/><circle cx="70.4" cy="243.3" r="2.35"/><circle cx="70.4" cy="248.0" r="2.35"/><circle cx="70.4" cy="252.7" r="2.35"/><circle cx="70.4" cy="257.4" r="2.35"/><circle cx="70.4" cy="258.0" r="2.35"/><circle cx="70.4" cy="260.6" r="2.35"/><circle cx="70.4" cy="263.2" r="2.35"/><circle cx="70.4" cy="265.8" r="2.35"/><circle cx="70.4" cy="268.4" r="2.35"/><circle cx="70.4" cy="271.0" r="2.35"/><circle cx="70.4" cy="273.6" r="2.35"/><circle cx="70.4" cy="276.2" r="2.35"/><circle cx="70.4" cy="279.5" r="2.35"/><circle cx="70.4" cy="282.8" r="2.35"/><circle cx="70.4" cy="286.1" r="2.35"/><circle cx="70.4" cy="289.4" r="2.35"/><circle cx="70.4" cy="292.7" r="2.35"/><circle cx="70.4" cy="296.0" r="2.35"/><circle cx="70.4" cy="299.3" r="2.35"/><circle cx="70.4" cy="302.6" r="2.35"/><circle cx="70.4" cy="305.9" r="2.35"/><circle cx="70.4" cy="309.2" r="2.35"/><circle cx="70.4" cy="312.5" r="2.35"/><circle cx="70.4" cy="315.8" r="2.35"/><circle cx="70.4" cy="319.1" r="2.35"/><circle cx="70.4" cy="322.4" r="2.35"/><circle cx="70.4" cy="325.7" r="2.35"/><circle cx="70.4" cy="329.0" r="2.35"/><circle cx="70.4" cy="332.3" r="2.35"/><circle cx="83.3" cy="233.5" r="2.35"/><circle cx="83.5" cy="235.5" r="2.35"/><circle cx="91.2" cy="237.0" r="2.35"/><circle cx="104.3" cy="232.2" r="2.35"/><circle cx="120.2" cy="246.9" r="2.35"/><circle cx="101.7" cy="254.9" r="2.35"/><circle cx="112.3" cy="256.6" r="2.35"/><circle cx="91.2" cy="258.8" r="2.35"/><circle cx="85.8" cy="266.9" r="2.35"/><circle cx="80.8" cy="270.0" r="2.35"/><circle cx="85.8" cy="275.4" r="2.35"/><circle cx="72.5" cy="281.5" r="2.35"/><circle cx="122.8" cy="280.0" r="2.35"/><circle cx="128.2" cy="285.8" r="2.35"/><circle cx="139" cy="278.5" r="2.35"/><circle cx="139" cy="281.5" r="2.35"/><circle cx="139" cy="286.2" r="2.35"/><circle cx="125.8" cy="293.8" r="2.35"/><circle cx="88.9" cy="297.7" r="2.35"/><circle cx="112.8" cy="299.2" r="2.35"/><circle cx="128.2" cy="286.2" r="2.35"/><circle cx="139" cy="287.3" r="2.35"/><circle cx="125.8" cy="293.9" r="2.35"/><circle cx="88.5" cy="297.6" r="2.35"/><circle cx="112.3" cy="300.1" r="2.35"/><circle cx="139" cy="301.2" r="2.35"/><circle cx="78.2" cy="304.7" r="2.35"/><circle cx="79.7" cy="305.8" r="2.35"/><circle cx="98.9" cy="304.2" r="2.35"/><circle cx="104.3" cy="304.2" r="2.35"/><circle cx="122.8" cy="309.2" r="2.35"/><circle cx="99.7" cy="313.5" r="2.35"/><circle cx="102.3" cy="313.0" r="2.35"/><circle cx="106.9" cy="314.2" r="2.35"/><circle cx="78.6" cy="308.1" r="2.35"/><circle cx="125.8" cy="318.1" r="2.35"/><circle cx="96.6" cy="320.4" r="2.35"/><circle cx="106.6" cy="321.2" r="2.35"/><circle cx="85.8" cy="326.5" r="2.35"/><circle cx="94.3" cy="326.8" r="2.35"/><circle cx="106.6" cy="327.3" r="2.35"/><circle cx="128.2" cy="326.5" r="2.35"/><circle cx="118.9" cy="328.8" r="2.35"/><circle cx="135.8" cy="328.8" r="2.35"/><circle cx="83.5" cy="333.9" r="2.35"/><circle cx="106.6" cy="336.5" r="2.35"/><circle cx="115.1" cy="337.3" r="2.35"/><circle cx="125.1" cy="335.8" r="2.35"/><circle cx="125.8" cy="338.1" r="2.35"/><circle cx="139" cy="332.7" r="2.35"/><circle cx="138.8" cy="284.6" r="2.35"/><circle cx="138.8" cy="287.7" r="2.35"/><circle cx="144.2" cy="283.8" r="2.35"/><circle cx="173.4" cy="281.2" r="2.35"/><circle cx="162.6" cy="290.8" r="2.35"/><circle cx="194.2" cy="290.5" r="2.35"/><circle cx="197.2" cy="291.5" r="2.35"/><circle cx="209.5" cy="286.2" r="2.35"/><circle cx="209.5" cy="292.3" r="2.35"/><circle cx="157.2" cy="298.5" r="2.35"/><circle cx="183.4" cy="297.2" r="2.35"/><circle cx="139.2" cy="301.5" r="2.35"/><circle cx="151.8" cy="303.8" r="2.35"/><circle cx="157.2" cy="306.2" r="2.35"/><circle cx="178" cy="303.1" r="2.35"/><circle cx="146.5" cy="312.3" r="2.35"/><circle cx="144.2" cy="316.6" r="2.35"/><circle cx="154.9" cy="318.5" r="2.35"/><circle cx="164.9" cy="317.7" r="2.35"/><circle cx="161.1" cy="321.5" r="2.35"/><circle cx="173.4" cy="312.3" r="2.35"/><circle cx="175.7" cy="314.6" r="2.35"/><circle cx="170.3" cy="316.6" r="2.35"/><circle cx="181.1" cy="321.5" r="2.35"/><circle cx="191.8" cy="316.2" r="2.35"/><circle cx="199.5" cy="313.8" r="2.35"/><circle cx="199.5" cy="318.5" r="2.35"/><circle cx="207.2" cy="319.2" r="2.35"/><circle cx="213.4" cy="314.6" r="2.35"/><circle cx="216.5" cy="320.0" r="2.35"/><circle cx="139.5" cy="326.2" r="2.35"/><circle cx="147.2" cy="330.8" r="2.35"/><circle cx="153.4" cy="329.2" r="2.35"/><circle cx="162.6" cy="329.2" r="2.35"/><circle cx="164.9" cy="333.1" r="2.35"/><circle cx="172.6" cy="330.0" r="2.35"/><circle cx="184.2" cy="330.8" r="2.35"/><circle cx="190.3" cy="326.2" r="2.35"/><circle cx="199.5" cy="326.9" r="2.35"/><circle cx="207.2" cy="332.3" r="2.35"/><circle cx="146.5" cy="336.9" r="2.35"/><circle cx="154.9" cy="334.6" r="2.35"/><circle cx="168" cy="334.6" r="2.35"/><circle cx="182.6" cy="335.4" r="2.35"/><circle cx="191.8" cy="333.8" r="2.35"/><circle cx="199.5" cy="340.0" r="2.35"/><circle cx="215.7" cy="332.3" r="2.35"/><circle cx="244.4" cy="281.7" r="2.35"/><circle cx="228.5" cy="294.7" r="2.35"/><circle cx="246.7" cy="301.6" r="2.35"/><circle cx="273.3" cy="300.8" r="2.35"/><circle cx="281.6" cy="300.4" r="2.35"/><circle cx="284.2" cy="302.0" r="2.35"/><circle cx="291.6" cy="302.0" r="2.35"/><circle cx="249.6" cy="306.8" r="2.35"/><circle cx="275.9" cy="306.0" r="2.35"/><circle cx="268.1" cy="309.8" r="2.35"/><circle cx="246.7" cy="312.9" r="2.35"/><circle cx="230.6" cy="312.9" r="2.35"/><circle cx="231.4" cy="316.3" r="2.35"/><circle cx="270.4" cy="315.5" r="2.35"/><circle cx="286.8" cy="316.0" r="2.35"/><circle cx="289.4" cy="316.3" r="2.35"/><circle cx="296.3" cy="315.5" r="2.35"/><circle cx="217.6" cy="320.7" r="2.35"/><circle cx="232.3" cy="320.7" r="2.35"/><circle cx="238.4" cy="318.1" r="2.35"/><circle cx="241" cy="320.7" r="2.35"/><circle cx="260" cy="320.7" r="2.35"/><circle cx="294.6" cy="320.7" r="2.35"/><circle cx="218.1" cy="330.2" r="2.35"/><circle cx="220.2" cy="333.6" r="2.35"/><circle cx="218.5" cy="335.4" r="2.35"/><circle cx="232.3" cy="330.2" r="2.35"/><circle cx="241" cy="331.9" r="2.35"/><circle cx="255.7" cy="329.3" r="2.35"/><circle cx="265.2" cy="330.2" r="2.35"/><circle cx="272.1" cy="325.8" r="2.35"/><circle cx="283.3" cy="331.0" r="2.35"/><circle cx="291.1" cy="329.3" r="2.35"/><circle cx="291.1" cy="332.8" r="2.35"/><circle cx="302.4" cy="329.3" r="2.35"/><circle cx="257.4" cy="338.0" r="2.35"/><circle cx="265.2" cy="335.4" r="2.35"/><circle cx="273.8" cy="337.1" r="2.35"/><circle cx="284.2" cy="337.1" r="2.35"/><circle cx="291.1" cy="336.2" r="2.35"/><circle cx="357.7" cy="278.0" r="2.35"/><circle cx="373.4" cy="287.0" r="2.35"/><circle cx="328.8" cy="299.9" r="2.35"/><circle cx="413.1" cy="300.6" r="2.35"/><circle cx="313.2" cy="308.5" r="2.35"/><circle cx="357.7" cy="309.6" r="2.35"/><circle cx="365.8" cy="311.2" r="2.35"/><circle cx="371.1" cy="314.5" r="2.35"/><circle cx="384.2" cy="312.4" r="2.35"/><circle cx="349.6" cy="316.5" r="2.35"/><circle cx="320.8" cy="317.7" r="2.35"/><circle cx="308" cy="320.5" r="2.35"/><circle cx="328.8" cy="321.2" r="2.35"/><circle cx="334.6" cy="322.3" r="2.35"/><circle cx="339.7" cy="320.5" r="2.35"/><circle cx="347.3" cy="325.8" r="2.35"/><circle cx="368.1" cy="325.1" r="2.35"/><circle cx="386.5" cy="323.7" r="2.35"/><circle cx="388.8" cy="326.5" r="2.35"/><circle cx="313.8" cy="327.0" r="2.35"/><circle cx="315" cy="328.8" r="2.35"/><circle cx="303.5" cy="329.2" r="2.35"/><circle cx="304.6" cy="331.5" r="2.35"/><circle cx="317.3" cy="332.7" r="2.35"/><circle cx="309.2" cy="335.0" r="2.35"/><circle cx="311.5" cy="336.2" r="2.35"/><circle cx="333.5" cy="331.5" r="2.35"/><circle cx="341.5" cy="333.4" r="2.35"/><circle cx="332.3" cy="337.3" r="2.35"/><circle cx="346.2" cy="336.2" r="2.35"/><circle cx="365.8" cy="337.3" r="2.35"/><circle cx="384.2" cy="337.3" r="2.35"/><circle cx="399.2" cy="338.5" r="2.35"/><circle cx="407.3" cy="328.8" r="2.35"/><circle cx="418.2" cy="334.3" r="2.35"/><circle cx="423.7" cy="307.0" r="2.35"/><circle cx="408" cy="328.8" r="2.35"/><circle cx="426.4" cy="327.3" r="2.35"/><circle cx="418.6" cy="333.0" r="2.35"/><circle cx="418.6" cy="335.1" r="2.35"/><circle cx="437" cy="334.5" r="2.35"/><circle cx="458.2" cy="334.5" r="2.35"/><circle cx="458.2" cy="336.2" r="2.35"/><circle cx="463" cy="333.0" r="2.35"/><circle cx="401" cy="339.3" r="2.35"/><circle cx="229.2" cy="321.4" r="2.35"/><circle cx="237.3" cy="322.1" r="2.35"/><circle cx="236.6" cy="330.2" r="2.35"/><circle cx="219.8" cy="334.9" r="2.35"/></g>
<g fill="#1d4677"><circle cx="70.1" cy="507.2" r="2.35"/><circle cx="70.1" cy="509.6" r="2.35"/><circle cx="88.5" cy="534.2" r="2.35"/><circle cx="91.2" cy="545.8" r="2.35"/><circle cx="117.4" cy="545.2" r="2.35"/><circle cx="141.2" cy="545.4" r="2.35"/><circle cx="88.5" cy="561.2" r="2.35"/><circle cx="101.8" cy="560.0" r="2.35"/><circle cx="88.5" cy="568.3" r="2.35"/><circle cx="99.1" cy="569.2" r="2.35"/><circle cx="109.7" cy="568.8" r="2.35"/><circle cx="120.3" cy="572.1" r="2.35"/><circle cx="128" cy="569.6" r="2.35"/><circle cx="130.8" cy="571.5" r="2.35"/><circle cx="90.8" cy="577.9" r="2.35"/><circle cx="217.8" cy="567.7" r="2.35"/><circle cx="307.2" cy="535.6" r="2.35"/><circle cx="302.1" cy="551.0" r="2.35"/><circle cx="302.1" cy="580.6" r="2.35"/><circle cx="380.4" cy="582.7" r="2.35"/><circle cx="289.4" cy="592.2" r="2.35"/><circle cx="315.5" cy="593.2" r="2.35"/><circle cx="339.2" cy="597.0" r="2.35"/><circle cx="409.2" cy="622.3" r="2.35"/><circle cx="310.2" cy="615.6" r="2.35"/><circle cx="344.1" cy="620.2" r="2.35"/><circle cx="352.2" cy="622.9" r="2.35"/><circle cx="364.3" cy="621.8" r="2.35"/><circle cx="292.1" cy="623.7" r="2.35"/><circle cx="284" cy="626.9" r="2.35"/><circle cx="346.8" cy="626.9" r="2.35"/><circle cx="254.3" cy="619.0" r="2.35"/><circle cx="263.2" cy="626.2" r="2.35"/><circle cx="265.5" cy="647.9" r="2.35"/><circle cx="472.4" cy="648.0" r="2.35"/><circle cx="339" cy="657.3" r="2.35"/><circle cx="401.4" cy="664.1" r="2.35"/><circle cx="398.8" cy="677.8" r="2.35"/><circle cx="404.4" cy="684.3" r="2.35"/><circle cx="501.8" cy="710.3" r="2.35"/><circle cx="390.7" cy="720.5" r="2.35"/><circle cx="361.9" cy="723.7" r="2.35"/><circle cx="438" cy="734.2" r="2.35"/><circle cx="420" cy="746.6" r="2.35"/><circle cx="76.4" cy="582.5" r="2.35"/><circle cx="98.5" cy="584.4" r="2.35"/><circle cx="119.7" cy="584.4" r="2.35"/><circle cx="96.2" cy="592.1" r="2.35"/><circle cx="138.9" cy="588.3" r="2.35"/><circle cx="138.9" cy="594.0" r="2.35"/><circle cx="143.7" cy="596.9" r="2.35"/><circle cx="78.3" cy="596.9" r="2.35"/><circle cx="91.8" cy="603.7" r="2.35"/><circle cx="95.7" cy="606.5" r="2.35"/><circle cx="114.9" cy="609.4" r="2.35"/><circle cx="119.7" cy="611.3" r="2.35"/><circle cx="90.8" cy="613.3" r="2.35"/><circle cx="101.4" cy="613.3" r="2.35"/><circle cx="96.6" cy="616.2" r="2.35"/><circle cx="104.3" cy="618.1" r="2.35"/><circle cx="125.5" cy="616.2" r="2.35"/><circle cx="125.5" cy="619.0" r="2.35"/><circle cx="138.9" cy="618.1" r="2.35"/><circle cx="138.9" cy="624.8" r="2.35"/><circle cx="91.8" cy="625.8" r="2.35"/><circle cx="107.2" cy="625.8" r="2.35"/><circle cx="99.5" cy="630.6" r="2.35"/><circle cx="103.3" cy="630.6" r="2.35"/><circle cx="109.1" cy="631.5" r="2.35"/><circle cx="112.4" cy="631.5" r="2.35"/><circle cx="105.3" cy="635.4" r="2.35"/><circle cx="108.2" cy="636.3" r="2.35"/><circle cx="96.6" cy="638.3" r="2.35"/><circle cx="117.8" cy="641.2" r="2.35"/><circle cx="140.8" cy="637.3" r="2.35"/><circle cx="152.4" cy="635.4" r="2.35"/><circle cx="154.3" cy="630.6" r="2.35"/><circle cx="160" cy="631.5" r="2.35"/><circle cx="160" cy="613.3" r="2.35"/><circle cx="96.6" cy="644.0" r="2.35"/><circle cx="107.2" cy="644.0" r="2.35"/><circle cx="113" cy="647.9" r="2.35"/><circle cx="123.5" cy="644.0" r="2.35"/><circle cx="132.2" cy="646.0" r="2.35"/><circle cx="136" cy="645.0" r="2.35"/><circle cx="196.8" cy="582.9" r="2.35"/><circle cx="170.5" cy="590.8" r="2.35"/><circle cx="173.9" cy="590.8" r="2.35"/><circle cx="225.7" cy="599.4" r="2.35"/><circle cx="202.2" cy="608.8" r="2.35"/><circle cx="233.5" cy="612.7" r="2.35"/><circle cx="162.4" cy="610.4" r="2.35"/><circle cx="165.7" cy="616.2" r="2.35"/><circle cx="170.1" cy="617.7" r="2.35"/><circle cx="185.8" cy="613.3" r="2.35"/><circle cx="181" cy="619.0" r="2.35"/><circle cx="188.7" cy="617.1" r="2.35"/><circle cx="181" cy="631.5" r="2.35"/><circle cx="185.8" cy="631.2" r="2.35"/><circle cx="204.7" cy="633.5" r="2.35"/><circle cx="225.3" cy="635.8" r="2.35"/><circle cx="173.3" cy="637.3" r="2.35"/><circle cx="178.2" cy="636.3" r="2.35"/><circle cx="164.7" cy="642.7" r="2.35"/><circle cx="170.5" cy="641.5" r="2.35"/><circle cx="198.3" cy="642.1" r="2.35"/><circle cx="228.5" cy="641.2" r="2.35"/><circle cx="234.9" cy="646.9" r="2.35"/><circle cx="286.5" cy="652.7" r="2.35"/><circle cx="252.3" cy="655.9" r="2.35"/><circle cx="289.1" cy="659.7" r="2.35"/><circle cx="301.8" cy="658.0" r="2.35"/><circle cx="325.7" cy="654.4" r="2.35"/><circle cx="320.4" cy="673.8" r="2.35"/><circle cx="241.7" cy="673.4" r="2.35"/><circle cx="262.8" cy="688.2" r="2.35"/><circle cx="241.7" cy="694.0" r="2.35"/><circle cx="240" cy="702.4" r="2.35"/><circle cx="270.7" cy="707.7" r="2.35"/><circle cx="249.5" cy="725.0" r="2.35"/><circle cx="331" cy="725.7" r="2.35"/><circle cx="244.2" cy="749.6" r="2.35"/><circle cx="151.9" cy="649.6" r="2.35"/><circle cx="157.7" cy="657.7" r="2.35"/><circle cx="189.4" cy="656.3" r="2.35"/><circle cx="191.9" cy="657.7" r="2.35"/><circle cx="151.5" cy="662.1" r="2.35"/><circle cx="167.7" cy="664.6" r="2.35"/><circle cx="168.3" cy="669.8" r="2.35"/><circle cx="175.6" cy="667.3" r="2.35"/><circle cx="186.2" cy="663.5" r="2.35"/><circle cx="194.2" cy="664.6" r="2.35"/><circle cx="204.8" cy="665.4" r="2.35"/><circle cx="222.7" cy="660.2" r="2.35"/><circle cx="222.7" cy="670.8" r="2.35"/><circle cx="157.3" cy="678.1" r="2.35"/><circle cx="173.1" cy="686.2" r="2.35"/><circle cx="204.8" cy="683.3" r="2.35"/><circle cx="222.7" cy="689.0" r="2.35"/><circle cx="186.2" cy="695.4" r="2.35"/><circle cx="212.5" cy="695.8" r="2.35"/><circle cx="204.8" cy="701.9" r="2.35"/><circle cx="162.5" cy="706.3" r="2.35"/><circle cx="204.8" cy="710.8" r="2.35"/><circle cx="215.4" cy="723.3" r="2.35"/><circle cx="162.5" cy="726.5" r="2.35"/><circle cx="75.8" cy="655.0" r="2.35"/><circle cx="107.2" cy="662.7" r="2.35"/><circle cx="117.8" cy="665.0" r="2.35"/><circle cx="128.3" cy="663.1" r="2.35"/><circle cx="88.5" cy="680.0" r="2.35"/><circle cx="133.5" cy="681.0" r="2.35"/><circle cx="138.9" cy="677.5" r="2.35"/><circle cx="144.3" cy="680.0" r="2.35"/><circle cx="146.6" cy="684.8" r="2.35"/><circle cx="130.8" cy="693.8" r="2.35"/><circle cx="125.5" cy="703.1" r="2.35"/><circle cx="144.3" cy="721.2" r="2.35"/><circle cx="101.4" cy="742.5" r="2.35"/><circle cx="70.4" cy="507.2" r="2.35"/><circle cx="70.4" cy="509.6" r="2.35"/><circle cx="70.4" cy="521.5" r="2.35"/><circle cx="70.4" cy="523.9" r="2.35"/><circle cx="70.4" cy="526.3" r="2.35"/><circle cx="70.4" cy="528.7" r="2.35"/><circle cx="70.4" cy="531.1" r="2.35"/><circle cx="70.4" cy="533.5" r="2.35"/><circle cx="70.4" cy="535.9" r="2.35"/><circle cx="70.4" cy="538.3" r="2.35"/><circle cx="70.4" cy="540.7" r="2.35"/><circle cx="70.4" cy="543.1" r="2.35"/><circle cx="70.4" cy="545.5" r="2.35"/><circle cx="70.4" cy="547.9" r="2.35"/><circle cx="70.4" cy="550.3" r="2.35"/><circle cx="70.4" cy="552.7" r="2.35"/><circle cx="70.4" cy="555.1" r="2.35"/><circle cx="70.4" cy="557.5" r="2.35"/><circle cx="70.4" cy="559.9" r="2.35"/><circle cx="70.4" cy="562.3" r="2.35"/><circle cx="70.4" cy="565.6" r="2.35"/><circle cx="70.4" cy="568.9" r="2.35"/><circle cx="70.4" cy="572.2" r="2.35"/><circle cx="70.4" cy="575.5" r="2.35"/><circle cx="70.4" cy="578.8" r="2.35"/><circle cx="70.4" cy="582.1" r="2.35"/><circle cx="70.4" cy="585.4" r="2.35"/><circle cx="70.4" cy="588.7" r="2.35"/><circle cx="70.4" cy="592.0" r="2.35"/><circle cx="70.4" cy="595.3" r="2.35"/><circle cx="70.4" cy="598.6" r="2.35"/><circle cx="70.4" cy="601.9" r="2.35"/><circle cx="70.4" cy="615.5" r="2.35"/><circle cx="70.4" cy="617.9" r="2.35"/><circle cx="70.4" cy="620.3" r="2.35"/><circle cx="70.4" cy="622.7" r="2.35"/><circle cx="70.4" cy="625.1" r="2.35"/><circle cx="70.4" cy="627.5" r="2.35"/><circle cx="70.4" cy="629.9" r="2.35"/><circle cx="70.4" cy="641.0" r="2.35"/><circle cx="70.4" cy="643.4" r="2.35"/><circle cx="70.4" cy="645.8" r="2.35"/><circle cx="70.4" cy="648.2" r="2.35"/><circle cx="70.4" cy="650.6" r="2.35"/><circle cx="70.4" cy="653.0" r="2.35"/><circle cx="70.4" cy="655.4" r="2.35"/><circle cx="70.4" cy="671.8" r="2.35"/><circle cx="70.4" cy="687.4" r="2.35"/><circle cx="70.4" cy="697.2" r="2.35"/><circle cx="70.4" cy="714.0" r="2.35"/><circle cx="70.4" cy="716.4" r="2.35"/><circle cx="70.4" cy="718.8" r="2.35"/><circle cx="70.4" cy="721.2" r="2.35"/><circle cx="70.4" cy="732.5" r="2.35"/><circle cx="70.4" cy="754.6" r="2.35"/></g>
<rect x="0" y="0" width="520" height="2" fill="#000"/><rect x="0" y="0" width="2" height="825" fill="#000"/><rect x="518" y="0" width="2" height="825" fill="#000"/><rect x="0" y="822.6" width="520" height="2.4" fill="#000"/>
</svg>
</body></html>
